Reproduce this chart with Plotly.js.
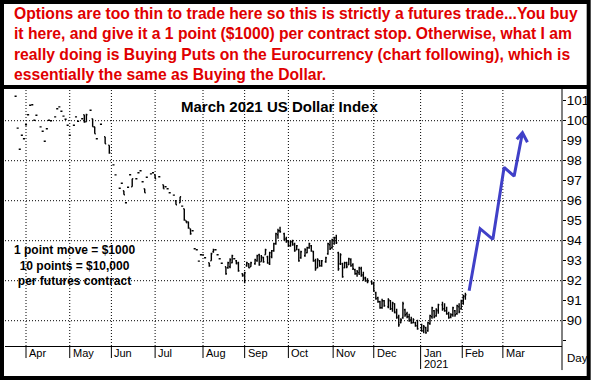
<!DOCTYPE html>
<html><head><meta charset="utf-8">
<script src="https://cdn.plot.ly/plotly-3.0.1.min.js"></script>
<style>html,body{margin:0;padding:0;background:#fff}#chart{width:594px;height:382px}</style>
</head><body><div id="chart"></div>
<script>
// trading-day index (0 = first trading day of April 2020)
const dayIdx = [
-5,-4,-3,-2,-1,0,1,2,3,4,
5,7,8,9,10,11,12,14,15,16,
17,18,19,20,21,23,24,25,27,28,
29,31,32,33,34,36,38,40,42,43,
45,46,47,48,49,50,51,53,54,55,
56,57,58,60,61,62,64,66,67,68,
69,71,72,74,75,76,77,78,79,80,
81,82,83,84,85,86,88,89,90,91,
92,93,94,96,97,98,99,100,101,102,
104,105,106,107,108,110,111,112,113,114,
115,116,117,118,119,120,121,122,124,125,
126,127,128,129,130,131,132,134,135,136,
137,138,139,140,141,142,144,145,146,147,
148,149,150,151,152,153,154,155,156,157,
158,159,160,161,162,163,164,166,167,168,
169,170,171,172,174,175,176,177,178,179,
180,181,182,183,184,185,186,187,188,190,
191,192,193,194,195,196,197,198,200,201,
202,203,204,205,206,207,208,209,210,211];
const openV = [
101.22,99.63,98.57,99.27,99.10,99.80,100.30,100.77,100.80,100.02,
100.27,99.69,99.47,98.97,99.60,100.02,100.00,100.19,100.60,100.69,
100.47,100.23,100.07,99.77,99.27,99.77,100.19,99.97,100.10,100.30,
99.95,100.52,100.10,99.70,99.10,99.82,99.20,98.77,97.79,97.29,
96.62,96.87,96.50,95.90,96.67,97.30,96.70,97.10,97.40,97.50,
96.95,96.60,97.17,97.34,97.40,97.30,97.20,96.80,96.70,96.60,
96.40,96.28,96.00,95.90,95.73,95.60,95.00,94.95,94.60,94.50,
93.60,93.55,92.98,93.30,93.29,93.15,92.90,93.00,93.45,93.55,
93.30,93.10,92.87,92.70,92.65,92.70,92.90,93.10,93.00,92.90,
92.35,92.30,92.75,92.85,92.70,92.85,93.00,93.30,92.95,93.15,
93.30,93.20,92.85,93.20,93.50,93.85,94.30,94.50,94.35,94.10,
94.00,93.75,93.95,93.85,93.55,93.55,93.15,93.25,93.40,93.65,
93.75,93.45,93.00,92.65,93.00,92.75,92.95,93.35,93.80,93.65,
94.00,94.15,93.40,92.85,92.85,92.65,92.90,92.80,93.05,92.80,
92.55,92.35,92.40,92.60,92.30,92.15,92.00,91.95,91.90,91.40,
91.15,90.95,90.65,91.00,90.70,91.00,90.60,90.85,90.45,90.20,
89.90,90.15,90.55,90.35,90.20,90.05,89.90,89.90,89.75,89.60,
89.50,89.65,89.50,89.85,90.20,90.50,90.25,90.50,90.80,90.60,
90.50,90.35,90.20,90.30,90.50,90.35,90.70,90.60,90.95,91.20];
const highV = [
101.22,99.63,98.57,99.27,99.10,99.80,100.30,100.77,100.80,100.02,
100.27,99.69,99.47,98.97,99.60,100.02,100.00,100.19,100.60,100.69,
100.47,100.23,100.07,99.77,99.27,99.77,100.19,99.97,100.10,100.30,
100.35,100.52,100.10,99.70,99.10,99.82,99.20,98.77,97.79,97.29,
96.62,96.87,96.50,95.90,96.67,97.30,97.10,97.10,97.40,97.50,
96.95,96.60,97.17,97.34,97.40,97.30,97.20,96.80,96.70,96.60,
96.40,96.28,96.00,96.20,95.73,95.60,95.00,94.95,94.60,94.50,
93.60,93.55,92.98,93.30,93.29,93.15,92.90,93.40,93.60,93.55,
93.30,93.10,92.87,92.70,92.95,93.12,93.30,93.10,93.03,92.95,
92.37,92.45,92.95,92.87,92.95,93.10,93.30,93.35,93.29,93.20,
93.60,93.25,93.45,93.54,93.90,94.40,94.60,94.70,94.40,94.20,
94.03,94.00,94.05,93.90,93.79,93.60,93.50,93.62,93.70,93.90,
93.79,93.50,93.10,93.12,93.04,93.04,93.20,93.90,94.04,94.10,
94.20,94.30,93.45,93.37,92.90,92.95,92.95,93.15,93.12,92.87,
92.60,92.54,92.70,92.70,92.45,92.20,92.12,92.00,91.95,91.45,
91.20,91.00,91.10,91.04,91.12,91.04,90.95,90.87,90.60,90.30,
90.12,90.95,90.60,90.45,90.35,90.20,90.12,89.95,90.05,89.85,
89.79,89.70,89.95,90.30,90.70,90.54,90.62,90.85,90.95,90.87,
90.70,90.45,90.37,90.70,90.54,90.80,90.87,91.05,91.30,91.40];
const lowV = [
101.22,99.63,98.57,99.27,99.10,99.80,100.30,100.77,100.80,100.02,
100.27,99.69,99.47,98.97,99.60,100.02,100.00,100.19,100.60,100.69,
100.47,100.23,100.07,99.77,99.27,99.77,100.19,99.97,100.10,99.90,
99.95,100.52,99.70,99.35,99.10,99.82,98.85,98.35,97.79,97.29,
96.62,96.87,96.30,95.90,96.67,97.30,96.70,97.10,97.40,97.50,
96.95,96.40,97.17,97.34,97.40,97.10,97.20,96.60,96.70,96.60,
96.40,96.28,95.80,95.90,95.73,95.00,94.90,94.60,94.30,94.50,
93.60,93.55,92.98,93.30,93.29,93.15,92.70,93.00,93.40,93.55,
93.30,93.10,92.87,92.30,92.60,92.62,92.87,93.10,92.82,92.45,
92.20,91.87,92.70,92.62,92.70,92.80,92.95,92.75,92.95,92.90,
93.30,92.85,92.79,93.12,93.45,93.80,94.10,94.40,94.00,93.90,
93.70,93.70,93.75,93.45,93.54,92.95,93.10,93.20,93.37,93.60,
93.45,92.95,92.50,92.62,92.70,92.70,92.90,93.30,93.54,93.60,
93.80,93.84,92.50,92.79,92.15,92.62,92.62,92.79,92.70,92.54,
92.30,92.20,92.29,92.20,92.00,91.95,91.87,91.80,91.45,91.05,
90.90,90.60,90.60,90.70,90.62,90.54,90.45,90.37,90.10,89.70,
89.87,90.10,90.20,90.12,89.95,89.85,89.87,89.70,89.55,89.45,
89.37,89.35,89.45,89.80,90.10,90.12,90.20,90.35,90.50,90.45,
90.30,90.10,90.12,90.20,90.20,90.30,90.37,90.55,90.80,91.05];
const closeV = [
101.22,99.63,98.57,99.27,99.10,99.80,100.30,100.77,100.80,100.02,
100.27,99.69,99.47,98.97,99.60,100.02,100.00,100.19,100.60,100.69,
100.47,100.23,100.07,99.77,99.27,99.77,100.19,99.97,100.10,99.95,
100.30,100.52,99.70,99.35,99.10,99.82,98.85,98.40,97.79,97.29,
96.62,96.87,96.30,95.90,96.67,97.30,97.10,97.10,97.40,97.50,
96.95,96.40,97.17,97.34,97.40,97.10,97.20,96.60,96.70,96.60,
96.40,96.28,95.80,96.20,95.73,95.05,94.90,94.65,94.35,94.50,
93.60,93.55,92.98,93.30,93.29,93.15,92.75,93.35,93.55,93.55,
93.30,93.10,92.87,92.35,92.90,93.05,93.25,93.10,92.85,92.50,
92.25,92.40,92.90,92.65,92.90,93.05,93.25,92.80,93.20,92.95,
93.55,92.90,93.40,93.50,93.85,94.35,94.50,94.45,94.05,93.95,
93.75,93.95,93.80,93.50,93.75,93.00,93.45,93.55,93.65,93.85,
93.50,93.00,92.60,93.05,92.75,93.00,93.15,93.85,93.60,94.05,
94.15,93.90,92.60,93.30,92.20,92.90,92.70,93.10,92.75,92.60,
92.35,92.45,92.65,92.25,92.10,92.00,91.95,91.85,91.50,91.10,
90.95,90.65,91.00,90.75,91.05,90.60,90.90,90.40,90.15,89.80,
90.05,90.85,90.30,90.20,90.00,89.90,90.05,89.75,89.60,89.50,
89.70,89.40,89.90,90.25,90.65,90.20,90.55,90.80,90.60,90.50,
90.35,90.15,90.30,90.65,90.30,90.75,90.45,91.00,91.25,91.30];

// projected path (blue arrow)
const arrowX = [212.8, 218.1, 224.2, 229.6, 234.4, 238.4];
const arrowY = [91.5, 94.6, 94.07, 97.67, 97.23, 99.4];
const headX = [235.7, 238.4, 240.8];
const headY = [99.07, 99.4, 98.92];

const monthPos = [0, 21, 41, 62, 85, 105, 126, 147.5, 167, 189.5, 209.5, 229];
const monthNames = ['Apr','May','Jun','Jul','Aug','Sep','Oct','Nov','Dec','Jan','Feb','Mar'];
const yearLabel = '2021';
const yearMonth = 'Jan';
const yTickVals = [89,90,91,92,93,94,95,96,97,98,99,100,101];
const yTickText = ['','90','91','92','93','94','95','96','97','98','99','100','101'];
const yGridVals = [90, 92, 94, 96, 98, 100];

const headerText = [
 'Options are too thin to trade here so this is strictly a futures trade...You buy',
 'it here, and give it a 1 point ($1000) per contract stop. Otherwise, what I am',
 'really doing is Buying Puts on the Eurocurrency (chart following), which is',
 'essentially the same as Buying the Dollar.'];
const chartTitle = 'March 2021 US Dollar Index';
const noteText = ['1 point move = $1000', '10 points = $10,000', 'per futures contract'];

const FONT = 'Liberation Sans, Arial, sans-serif';
const dotted = {color: '#000', width: 1, dash: '1px,2px'};

const shapes = [];
yGridVals.forEach(v => shapes.push({type:'line', xref:'paper', yref:'y', x0:0, x1:1, y0:v, y1:v, line:dotted, layer:'below'}));
monthPos.forEach((p, i) => {
  shapes.push({type:'line', xref:'x', yref:'paper', x0:p, x1:p, y0:0, y1:1, line:dotted, layer:'below'});
  const long = monthNames[i] === yearMonth;
  shapes.push({type:'line', xref:'x', yref:'paper', x0:p, x1:p, y0:0, y1: long ? -0.09 : -0.047, line:{color:'#000', width:1}});
});
// y axis line through label band
shapes.push({type:'line', xref:'paper', yref:'paper', x0:1, x1:1, y0:1.012, y1:-0.094, line:{color:'#000', width:1}});
// outer frame and header divider
shapes.push({type:'rect', xref:'paper', yref:'paper', x0:-0.0054, x1:1.0479, y0:-0.125, y1:1.3438, line:{color:'#000', width:4}, fillcolor:'rgba(0,0,0,0)'});
shapes.push({type:'line', xref:'paper', yref:'paper', x0:-0.0054, x1:1.0479, y0:1.0117, y1:1.0117, line:{color:'#000', width:4}});

const annotations = [];
monthPos.forEach((p, i) => annotations.push({x:p, xref:'x', y:0, yref:'paper', xanchor:'left', yanchor:'top', xshift:1, yshift:1,
  text:monthNames[i], showarrow:false, font:{family:FONT, size:11, color:'#000'}}));
annotations.push({x:monthPos[monthNames.indexOf(yearMonth)], xref:'x', y:-0.072, yref:'paper', xanchor:'left', yanchor:'middle', xshift:1,
  text:yearLabel, showarrow:false, font:{family:FONT, size:11, color:'#000'}});
annotations.push({x:1.005, xref:'paper', y:-0.047, yref:'paper', xanchor:'left', yanchor:'middle',
  text:'Day', showarrow:false, font:{family:FONT, size:11.5, color:'#000'}});
annotations.push({x:0.0126, xref:'paper', y:1.338, yref:'paper', xanchor:'left', yanchor:'top', align:'left',
  text:headerText.map(t => '<b>' + t + '</b>').join('<br>'), showarrow:false, font:{family:FONT, size:15.7, color:'#e00000'}});
annotations.push({x:0.492, xref:'paper', y:0.9375, yref:'paper', xanchor:'center', yanchor:'middle',
  text:'<b>' + chartTitle + '</b>', showarrow:false, font:{family:FONT, size:15, color:'#000'}});
annotations.push({x:0.124, xref:'paper', y:0.316, yref:'paper', xanchor:'center', yanchor:'middle', align:'center',
  text:noteText.map(t => '<b>' + t + '</b>').join('<br>'), showarrow:false, font:{family:FONT, size:12, color:'#000'}});

const traces = [
  {type:'ohlc', x:dayIdx, open:openV, high:highV, low:lowV, close:closeV, tickwidth:0.5,
   increasing:{line:{color:'#000', width:1.4}}, decreasing:{line:{color:'#000', width:1.4}}, hoverinfo:'skip', showlegend:false},
  {type:'scatter', mode:'lines', x:arrowX, y:arrowY, line:{color:'#4040c8', width:3}, hoverinfo:'skip', showlegend:false},
  {type:'scatter', mode:'lines', x:headX, y:headY, line:{color:'#4040c8', width:3}, hoverinfo:'skip', showlegend:false}
];

const layout = {
  width:594, height:382, margin:{l:5, r:32, t:90, b:36},
  paper_bgcolor:'#fff', plot_bgcolor:'#fff', showlegend:false,
  font:{family:FONT, color:'#000'},
  xaxis:{range:[-10.09, 257.4], showticklabels:false, ticks:'', showgrid:false, zeroline:false,
    showline:true, linecolor:'#000', linewidth:1, rangeslider:{visible:false}, fixedrange:true},
  yaxis:{side:'right', range:[88.735, 101.535], tickvals:yTickVals, ticktext:yTickText, ticks:'outside', ticklen:3,
    ticklabelstandoff:-2,
    tickcolor:'#000', showgrid:false, zeroline:false, showline:false, tickfont:{family:FONT, size:13.5, color:'#000'}, fixedrange:true},
  shapes:shapes, annotations:annotations
};
Plotly.newPlot('chart', traces, layout, {staticPlot:true, displayModeBar:false});
</script></body></html>
